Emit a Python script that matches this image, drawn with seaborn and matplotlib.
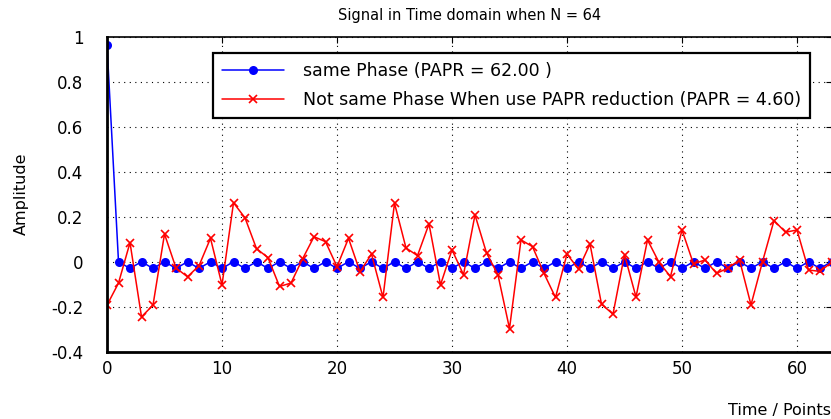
import numpy as np
import pandas as pd
import matplotlib
matplotlib.use("Agg")
import matplotlib.pyplot as plt
import seaborn as sns

n_points = 64
time_idx = list(range(n_points))

same_phase = [0.963] + [0.0 if i % 2 == 1 else -0.03 for i in range(1, n_points)]

not_same_phase = [
    -0.193, -0.095, 0.085, -0.245, -0.193, 0.123, -0.028, -0.067,
    -0.018, 0.104, -0.103, 0.262, 0.195, 0.058, 0.018, -0.11,
    -0.095, 0.012, 0.111, 0.089, -0.022, 0.104, -0.045, 0.034,
    -0.159, 0.26, 0.061, 0.027, 0.168, -0.103, 0.053, -0.058,
    0.208, 0.039, -0.059, -0.297, 0.097, 0.067, -0.052, -0.159,
    0.034, -0.033, 0.079, -0.189, -0.233, 0.031, -0.157, 0.097,
    -0.003, -0.066, 0.141, -0.01, 0.008, -0.052, -0.028, 0.008,
    -0.192, 0.0, 0.183, 0.131, 0.141, -0.037, -0.043, -0.003,
]

label_same = "same Phase (PAPR = 62.00 )"
label_not = "Not same Phase When use PAPR reduction (PAPR = 4.60)"
x_ticks = [0, 10, 20, 30, 40, 50, 60]
y_ticks = [-0.4, -0.2, 0, 0.2, 0.4, 0.6, 0.8, 1]
y_tick_labels = ["-0.4", "-0.2", "0", "0.2", "0.4", "0.6", "0.8", "1"]

sns.set_style("white")
plt.rcParams["font.family"] = ["DejaVu Sans"]
plt.rcParams["text.color"] = "black"
plt.rcParams["axes.labelcolor"] = "black"
plt.rcParams["xtick.color"] = "black"
plt.rcParams["ytick.color"] = "black"

fig = plt.figure(figsize=(8.31, 4.19), dpi=100)
ax = fig.add_axes([107 / 831, (419 - 351.7) / 419, 724.5 / 831, (351.7 - 36.7) / 419])

df_same = pd.DataFrame({"t": time_idx, "v": same_phase})
df_not = pd.DataFrame({"t": time_idx, "v": not_same_phase})

sns.lineplot(data=df_same, x="t", y="v", ax=ax, color="#0000ff", marker="o",
             markersize=6.5, markeredgewidth=0, markerfacecolor="#0000ff",
             linewidth=1.1, label=label_same)
sns.lineplot(data=df_not, x="t", y="v", ax=ax, color="#ff0000", marker="x",
             markersize=6, markeredgewidth=1.2, markeredgecolor="#ff0000",
             linewidth=1.1, label=label_not)

ax.set_xlim(0, 63)
ax.set_ylim(-0.4, 1.0)
ax.set_xticks(x_ticks)
ax.set_xticklabels([str(v) for v in x_ticks])
ax.set_yticks(y_ticks)
ax.set_yticklabels(y_tick_labels)
ax.tick_params(axis="both", direction="in", length=4, width=0.8, labelsize=12,
               top=True, right=True, color="black", labelcolor="black")
ax.tick_params(axis="y", pad=17)
ax.tick_params(axis="x", pad=6)
ax.grid(True, linestyle=(0, (1, 4)), color="black", linewidth=0.8)

for side in ["left", "bottom", "top", "right"]:
    ax.spines[side].set_color("black")
ax.spines["left"].set_linewidth(2)
ax.spines["bottom"].set_linewidth(2)
ax.spines["top"].set_linewidth(1.2)
ax.spines["right"].set_linewidth(1.2)

ax.set_xlabel("")
ax.set_ylabel("Amplitude", fontsize=11.5, labelpad=16, color="black")
ax.set_title("Signal in Time domain when N = 64", fontsize=10.5, pad=12, color="black")
t = fig.text(0, 0, "Time / Points", fontsize=11.5, ha="left", va="center",
             transform=None, color="black")
t.set_position((728, 9))

leg = ax.legend(loc="upper left", bbox_to_anchor=(213 / 831, (419 - 53) / 419),
                bbox_transform=fig.transFigure, frameon=True, fancybox=False,
                fontsize=12.5, handlelength=3.6, borderpad=0.5, labelspacing=0.65,
                handletextpad=1.1, borderaxespad=0)
leg.get_frame().set_edgecolor("black")
leg.get_frame().set_linewidth(1.6)
leg.get_frame().set_alpha(1)
for txt in leg.get_texts():
    txt.set_color("black")

fig.savefig("out.png", dpi=100)
